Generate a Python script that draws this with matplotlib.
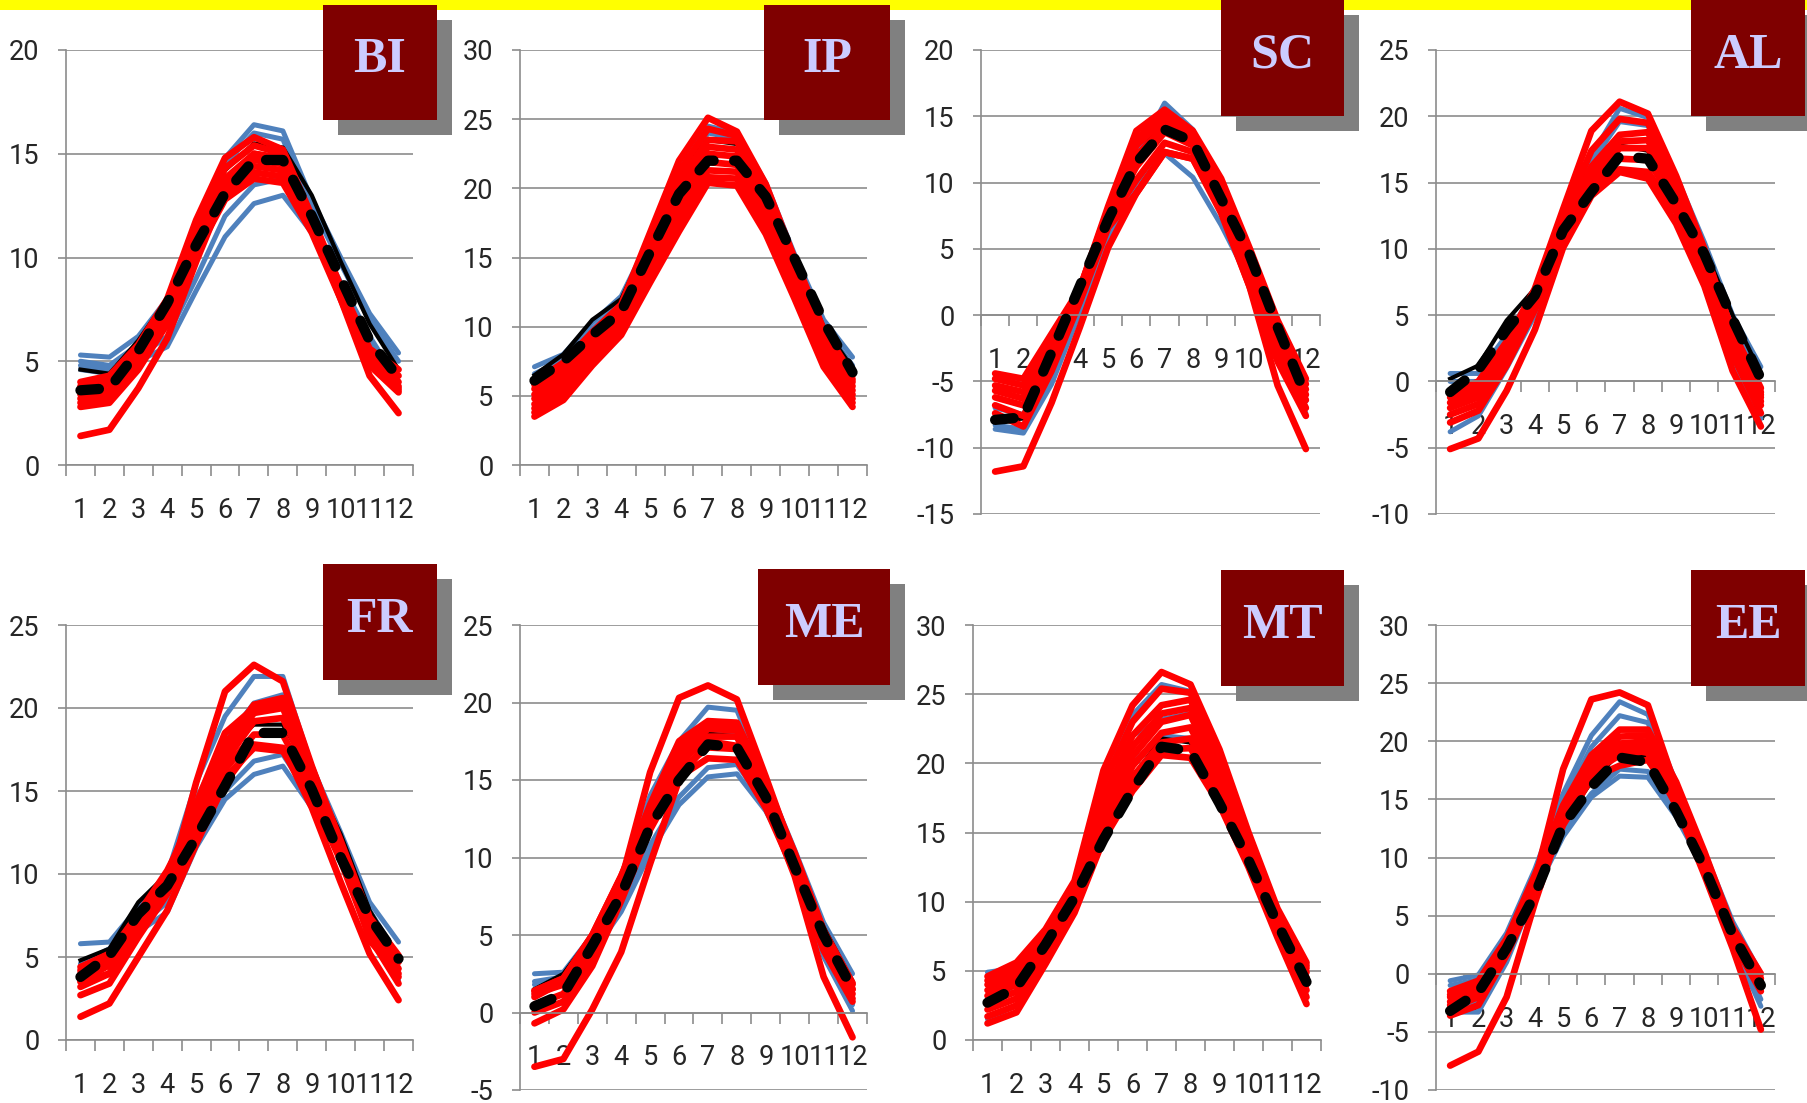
import matplotlib
matplotlib.use('Agg')
import matplotlib.pyplot as plt
from matplotlib import font_manager
from matplotlib.patches import Rectangle
from matplotlib.ticker import FixedLocator, NullFormatter
import numpy as np

# Figure size in pixels (dpi 100)
W, H = 1808, 1103

BLUE = '#4F81BD'
RED = '#FF0000'
GRID = '#8C8C8C'
TEXT = '#262626'
BOX = '#7F0000'
SHADOW = '#808080'
LABEL = '#CCCCFF'

plt.rcParams['axes.unicode_minus'] = False

MONTHS = list(range(1, 13))
MONTH_LABELS = [str(m) for m in MONTHS]

# ---- BI ----
BI_BLUE = [
    [5.3, 5.2, 6.2, 8.0, 11.5, 14.8, 16.4, 16.1, 12.8, 10.0, 7.3, 5.4],
    [5.0, 4.8, 5.8, 7.8, 11.3, 14.5, 16.0, 15.7, 12.5, 9.7, 7.0, 5.0],
    [4.6, 4.4, 5.0, 5.7, 8.4, 11.0, 12.6, 13.0, 11.2, 8.4, 5.8, 3.7],
    [4.8, 4.6, 5.2, 6.2, 9.0, 12.0, 13.5, 13.8, 11.5, 8.8, 6.2, 4.0],
]
BI_BLACK = [4.6, 4.4, 6.0, 8.0, 11.2, 14.2, 15.5, 15.3, 13.0, 9.8, 6.8, 4.6]
BI_RED = [
    [4.0, 4.3, 5.8, 8.0, 11.8, 14.8, 15.8, 15.2, 12.0, 8.6, 5.6, 4.6],
    [3.8, 4.1, 5.6, 7.8, 11.5, 14.3, 15.4, 15.0, 11.9, 8.5, 5.5, 4.3],
    [3.6, 3.9, 5.3, 7.6, 11.2, 13.8, 15.0, 14.7, 11.8, 8.4, 5.3, 4.0],
    [3.4, 3.6, 5.1, 7.4, 11.0, 13.5, 14.7, 14.5, 11.6, 8.3, 5.1, 3.8],
    [3.2, 3.4, 4.9, 7.2, 10.8, 13.2, 14.4, 14.2, 11.5, 8.2, 5.0, 3.7],
    [3.0, 3.2, 4.7, 7.0, 10.5, 13.0, 14.1, 13.9, 11.3, 8.1, 4.9, 3.6],
    [2.8, 3.0, 4.6, 6.8, 10.2, 12.8, 13.8, 13.6, 11.2, 8.0, 4.8, 3.5],
    [1.4, 1.7, 3.7, 6.1, 9.8, 13.2, 15.0, 14.8, 11.6, 8.0, 4.3, 2.5],
]
BI_MEAN = [3.6, 3.7, 5.5, 7.8, 10.6, 13.1, 14.7, 14.7, 12.0, 9.0, 6.0, 4.2]

# ---- IP ----
IP_BLUE = [
    [7.1, 8.0, 10.3, 12.2, 16.4, 21.9, 24.5, 24.0, 20.4, 15.2, 10.5, 7.8],
    [6.6, 7.6, 9.8, 11.8, 16.0, 21.0, 24.0, 23.6, 19.8, 14.8, 10.0, 7.2],
]
IP_BLACK = [6.5, 8.0, 10.5, 12.0, 16.5, 21.0, 23.5, 23.2, 19.8, 14.8, 10.0, 7.0]
IP_RED = [
    [6.0, 7.4, 9.6, 11.6, 16.8, 22.0, 25.1, 24.1, 20.3, 14.9, 9.8, 6.5],
    [5.8, 7.1, 9.3, 11.3, 16.3, 21.2, 24.3, 23.8, 20.0, 14.6, 9.5, 6.2],
    [5.5, 6.8, 9.0, 11.0, 15.8, 20.5, 23.5, 23.4, 19.6, 14.3, 9.2, 6.0],
    [5.1, 6.4, 8.6, 10.7, 15.3, 19.8, 23.0, 22.8, 19.1, 13.9, 8.8, 5.7],
    [4.8, 6.0, 8.3, 10.4, 14.8, 19.2, 22.5, 22.3, 18.6, 13.5, 8.5, 5.4],
    [4.4, 5.6, 8.0, 10.2, 14.4, 18.6, 21.9, 21.7, 18.1, 13.1, 8.1, 5.1],
    [4.1, 5.3, 7.8, 10.0, 14.0, 18.0, 21.3, 21.2, 17.6, 12.8, 7.8, 4.8],
    [3.8, 5.0, 7.5, 9.7, 13.6, 17.4, 20.8, 20.7, 17.1, 12.4, 7.4, 4.5],
    [3.5, 4.7, 7.2, 9.4, 13.2, 16.9, 20.4, 20.2, 16.7, 12.0, 7.1, 4.2],
]
IP_MEAN = [6.1, 7.5, 9.4, 11.1, 15.4, 19.6, 22.0, 22.0, 19.4, 14.9, 10.4, 6.7]

# ---- SC ----
SC_BLUE = [
    [-8.3, -8.6, -4.8, 0.8, 6.8, 12.0, 16.0, 14.0, 9.0, 4.0, -2.0, -7.4],
    [-8.6, -8.9, -5.2, 0.2, 5.8, 10.0, 12.2, 10.4, 6.8, 2.6, -2.8, -7.0],
    [-7.0, -7.5, -3.5, 1.5, 7.5, 12.5, 15.2, 13.5, 9.0, 4.2, -1.5, -6.5],
]
SC_BLACK = [-8.0, -7.8, -3.0, 2.0, 7.0, 12.0, 14.6, 13.5, 9.0, 4.8, -0.8, -6.3]
SC_RED = [
    [-4.4, -4.8, -1.4, 2.0, 8.2, 13.9, 15.5, 13.9, 10.3, 5.1, -0.4, -4.8],
    [-4.8, -5.3, -1.8, 2.0, 8.0, 13.3, 15.1, 13.6, 10.0, 4.8, -0.8, -5.2],
    [-5.3, -5.8, -2.2, 2.0, 7.8, 12.8, 14.8, 13.4, 9.6, 4.4, -1.2, -5.6],
    [-5.7, -6.3, -2.6, 1.8, 7.5, 12.0, 14.3, 13.1, 9.2, 3.9, -1.7, -6.0],
    [-6.2, -6.8, -3.0, 1.6, 7.3, 11.2, 13.8, 12.8, 8.9, 3.4, -2.2, -6.4],
    [-6.8, -7.6, -3.6, 1.3, 7.0, 10.2, 13.0, 12.3, 8.4, 2.8, -2.8, -7.0],
    [-7.4, -8.4, -4.2, 1.0, 6.6, 9.2, 12.3, 11.8, 7.9, 2.2, -3.5, -7.6],
    [-11.8, -11.4, -6.6, -0.9, 5.1, 9.2, 12.3, 11.8, 7.7, 2.2, -5.3, -10.1],
]
SC_MEAN = [-7.9, -7.7, -2.8, 2.2, 7.2, 11.5, 14.0, 13.1, 8.8, 4.6, -0.9, -6.1]

# ---- AL ----
AL_BLUE = [
    [0.6, 0.6, 3.5, 6.8, 12.5, 17.0, 20.6, 19.9, 15.5, 10.5, 5.0, 1.1],
    [0.0, 0.0, 3.0, 6.5, 12.0, 16.5, 19.6, 19.3, 15.0, 10.0, 4.5, 0.5],
    [-3.8, -2.6, 1.0, 5.0, 11.0, 15.0, 16.0, 15.6, 12.0, 7.8, 1.5, -2.8],
]
AL_BLACK = [0.2, 1.2, 4.6, 7.0, 11.8, 15.5, 17.8, 17.4, 14.0, 10.0, 5.0, 0.6]
AL_RED = [
    [-1.0, 0.0, 3.0, 7.0, 13.0, 18.9, 21.1, 20.2, 15.5, 10.0, 3.5, -1.5],
    [-0.8, -0.2, 2.8, 6.8, 12.4, 17.4, 19.8, 19.5, 15.0, 9.8, 3.7, -1.0],
    [-1.2, -0.5, 2.5, 6.5, 11.8, 16.2, 18.6, 18.8, 14.6, 9.6, 3.8, -0.5],
    [-1.6, -0.8, 2.2, 6.2, 11.5, 15.7, 18.1, 18.2, 14.3, 9.3, 3.4, -0.8],
    [-2.0, -1.2, 2.0, 6.0, 11.2, 15.2, 17.6, 17.6, 14.0, 9.0, 3.0, -1.2],
    [-2.5, -1.7, 1.6, 5.7, 10.8, 14.7, 16.8, 16.7, 13.4, 8.6, 2.5, -1.8],
    [-3.1, -2.2, 1.2, 5.4, 10.5, 14.2, 16.0, 15.8, 12.8, 8.2, 2.0, -2.4],
    [-5.1, -4.3, -0.7, 3.9, 10.1, 14.0, 15.8, 15.3, 11.9, 7.2, 0.8, -3.4],
]
AL_MEAN = [-0.8, 0.9, 3.9, 6.5, 11.4, 14.3, 17.0, 16.8, 13.4, 9.6, 4.7, 0.2]

# ---- FR ----
FR_BLUE = [
    [5.8, 5.9, 8.0, 10.0, 15.5, 19.5, 21.9, 21.9, 16.5, 12.5, 8.3, 5.9],
    [4.6, 5.5, 7.5, 9.5, 14.5, 18.0, 20.3, 20.8, 16.0, 12.0, 7.8, 5.0],
    [4.5, 5.0, 6.5, 7.7, 11.6, 14.5, 16.0, 16.5, 14.0, 11.0, 7.0, 3.6],
    [4.0, 4.8, 6.8, 8.3, 12.0, 15.0, 16.8, 17.2, 14.5, 11.3, 7.2, 3.8],
]
FR_BLACK = [4.8, 5.5, 8.3, 10.0, 14.0, 17.5, 19.0, 19.0, 16.0, 12.4, 7.8, 4.9]
FR_RED = [
    [3.5, 4.0, 6.5, 9.0, 15.5, 21.0, 22.6, 21.6, 16.5, 11.8, 6.0, 4.0],
    [4.4, 5.2, 7.6, 10.2, 13.6, 17.8, 20.2, 20.6, 16.4, 12.0, 7.4, 5.1],
    [4.2, 5.0, 7.4, 10.0, 14.2, 18.5, 20.0, 20.3, 16.2, 11.8, 7.2, 4.8],
    [4.0, 4.8, 7.3, 9.9, 13.3, 17.3, 19.7, 20.0, 16.0, 11.7, 7.1, 4.7],
    [3.6, 4.5, 7.0, 9.6, 13.0, 16.8, 19.2, 19.4, 15.6, 11.4, 6.8, 4.3],
    [3.2, 4.0, 6.6, 9.2, 12.6, 16.3, 18.4, 18.4, 15.1, 11.1, 6.5, 3.8],
    [2.7, 3.4, 6.2, 8.8, 12.3, 15.8, 17.6, 17.4, 14.6, 10.8, 6.2, 3.4],
    [1.4, 2.2, 5.0, 7.8, 11.8, 15.5, 17.8, 17.6, 14.0, 9.5, 5.2, 2.4],
]
FR_MEAN = [3.8, 5.1, 7.6, 9.3, 12.2, 15.3, 18.5, 18.5, 15.1, 11.0, 7.4, 4.9]

# ---- ME ----
ME_BLUE = [
    [2.5, 2.6, 5.0, 8.5, 14.0, 17.5, 19.7, 19.5, 15.0, 10.5, 5.8, 2.5],
    [2.0, 2.3, 4.6, 8.0, 13.0, 16.5, 18.2, 18.0, 14.4, 10.0, 5.5, 2.0],
    [1.8, 2.0, 3.8, 6.5, 10.3, 13.4, 15.2, 15.4, 13.0, 9.5, 3.6, 0.1],
    [1.5, 1.8, 3.5, 6.8, 10.8, 13.9, 15.8, 16.0, 13.4, 9.0, 3.8, 0.5],
]
ME_BLACK = [1.5, 2.5, 5.0, 8.5, 12.5, 16.0, 18.0, 17.8, 14.0, 9.8, 5.5, 2.0]
ME_RED = [
    [1.0, 2.0, 4.5, 8.5, 15.5, 20.3, 21.1, 20.2, 15.2, 10.0, 4.5, 1.5],
    [1.4, 2.2, 5.0, 8.8, 13.4, 17.5, 18.8, 18.7, 14.8, 10.3, 5.3, 1.9],
    [1.4, 2.2, 5.0, 8.8, 13.0, 17.0, 18.7, 18.5, 14.6, 10.2, 5.2, 1.8],
    [1.2, 1.8, 4.6, 8.5, 12.8, 16.5, 18.3, 18.2, 14.3, 9.9, 4.9, 1.5],
    [0.5, 1.2, 4.0, 8.0, 12.5, 16.0, 17.8, 17.8, 14.0, 9.6, 4.6, 1.2],
    [0.0, 0.7, 3.5, 7.6, 12.1, 15.6, 17.1, 17.0, 13.6, 9.3, 4.3, 0.9],
    [-0.7, 0.2, 3.0, 7.2, 11.8, 15.2, 16.4, 16.3, 13.2, 9.0, 4.0, 0.7],
    [-3.5, -3.0, 0.2, 3.9, 9.6, 15.0, 17.5, 17.2, 13.6, 8.8, 2.3, -1.6],
]
ME_MEAN = [0.4, 1.2, 4.3, 7.6, 12.0, 15.0, 17.3, 17.1, 13.9, 9.4, 5.0, 1.5]

# ---- MT ----
MT_BLUE = [
    [4.9, 5.2, 8.0, 11.5, 18.5, 23.5, 25.7, 25.2, 20.5, 14.5, 9.0, 5.0],
    [4.2, 4.8, 7.5, 11.0, 17.0, 22.0, 23.2, 23.6, 19.5, 14.0, 8.8, 4.8],
    [1.5, 2.5, 6.0, 9.8, 15.5, 20.0, 22.0, 21.8, 18.0, 13.5, 8.0, 3.2],
]
MT_BLACK = [2.8, 4.0, 7.5, 10.8, 15.0, 19.0, 21.8, 21.5, 17.8, 13.5, 8.8, 4.6]
MT_RED = [
    [4.6, 5.6, 8.0, 11.5, 19.5, 24.2, 26.6, 25.7, 21.0, 15.0, 9.5, 5.6],
    [4.3, 5.2, 7.8, 11.2, 18.5, 23.0, 25.4, 25.1, 20.5, 14.8, 9.3, 5.4],
    [4.0, 4.8, 7.6, 11.0, 17.5, 22.0, 24.2, 24.6, 20.0, 14.6, 9.2, 5.2],
    [3.6, 4.4, 7.3, 10.8, 16.8, 21.2, 23.6, 24.0, 19.5, 14.3, 9.0, 4.9],
    [3.2, 4.0, 7.0, 10.5, 16.0, 20.5, 23.0, 23.5, 19.0, 14.0, 8.8, 4.5],
    [2.7, 3.5, 6.6, 10.1, 15.5, 19.8, 22.2, 22.6, 18.5, 13.7, 8.5, 4.0],
    [2.2, 3.0, 6.2, 9.8, 15.0, 19.0, 21.5, 21.8, 18.0, 13.4, 8.2, 3.6],
    [1.7, 2.5, 5.8, 9.5, 14.7, 18.5, 21.0, 21.1, 17.5, 13.0, 7.8, 3.1],
    [1.2, 2.0, 5.5, 9.2, 14.5, 18.0, 20.6, 20.4, 17.0, 12.5, 7.4, 2.6],
]
MT_MEAN = [2.7, 3.8, 6.9, 10.3, 14.5, 18.1, 21.2, 20.9, 17.1, 13.0, 8.4, 4.2]

# ---- EE ----
EE_BLUE = [
    [-0.6, -0.1, 3.5, 9.0, 15.5, 20.5, 23.4, 22.3, 16.5, 10.5, 4.5, 0.0],
    [-1.0, -0.5, 3.0, 8.5, 14.8, 19.5, 22.2, 21.6, 16.0, 10.2, 4.0, -0.5],
    [-3.3, -3.3, 1.0, 7.0, 11.8, 15.2, 17.0, 16.9, 13.5, 9.0, 2.5, -2.8],
    [-3.0, -2.5, 1.5, 7.5, 12.2, 15.5, 17.6, 17.4, 14.0, 9.2, 3.0, -2.2],
]
EE_BLACK = [-3.0, -1.8, 2.6, 7.2, 13.0, 16.5, 19.0, 18.7, 14.5, 9.5, 3.8, -1.0]
EE_RED = [
    [-2.0, -0.8, 2.5, 8.0, 17.6, 23.6, 24.2, 23.1, 16.0, 10.0, 3.0, -1.0],
    [-1.5, -0.6, 3.0, 8.5, 14.5, 18.8, 21.0, 21.0, 16.5, 10.5, 4.0, 0.0],
    [-1.8, -0.7, 2.8, 8.2, 14.1, 18.3, 20.4, 20.5, 16.0, 10.2, 3.8, -0.4],
    [-2.4, -1.4, 2.4, 7.8, 13.6, 17.8, 19.8, 20.0, 15.6, 9.8, 3.5, -0.7],
    [-2.7, -1.7, 2.2, 7.6, 13.4, 17.5, 19.3, 19.6, 15.4, 9.7, 3.3, -0.9],
    [-3.0, -2.0, 2.0, 7.4, 13.2, 17.3, 18.8, 19.2, 15.2, 9.5, 3.1, -1.1],
    [-3.6, -2.7, 1.6, 7.0, 12.8, 16.8, 17.9, 18.4, 14.8, 9.2, 2.8, -1.5],
    [-7.9, -6.7, -2.0, 6.1, 13.4, 17.5, 19.5, 19.0, 14.5, 8.5, 2.2, -4.8],
]
EE_MEAN = [-3.2, -1.6, 2.2, 6.8, 12.8, 16.1, 18.6, 18.2, 14.0, 9.1, 3.4, -1.0]

# name, series, y-range, plot area (px: left, top, right, bottom), label box (px)
PANELS = [
    ('BI', BI_BLUE, BI_BLACK, BI_RED, BI_MEAN, (0, 20), (66, 50, 413, 465), (323, 5, 437, 120)),
    ('IP', IP_BLUE, IP_BLACK, IP_RED, IP_MEAN, (0, 30), (520, 50, 867, 465), (764, 5, 890, 120)),
    ('SC', SC_BLUE, SC_BLACK, SC_RED, SC_MEAN, (-15, 20), (981, 50, 1320, 514), (1221, 0, 1344, 116)),
    ('AL', AL_BLUE, AL_BLACK, AL_RED, AL_MEAN, (-10, 25), (1436, 50, 1775, 514), (1691, 0, 1805, 116)),
    ('FR', FR_BLUE, FR_BLACK, FR_RED, FR_MEAN, (0, 25), (66, 625, 413, 1040), (323, 564, 437, 680)),
    ('ME', ME_BLUE, ME_BLACK, ME_RED, ME_MEAN, (-5, 25), (520, 625, 867, 1090), (758, 569, 890, 685)),
    ('MT', MT_BLUE, MT_BLACK, MT_RED, MT_MEAN, (0, 30), (973, 625, 1321, 1040), (1221, 570, 1344, 686)),
    ('EE', EE_BLUE, EE_BLACK, EE_RED, EE_MEAN, (-10, 30), (1436, 625, 1775, 1090), (1691, 570, 1805, 686)),
]


def pick_tick_font():
    """Prefer a narrow sans (like Calibri in the original), else Roboto."""
    for f in font_manager.fontManager.ttflist:
        if f.name == 'Liberation Sans Narrow' and f.style == 'normal' and f.weight in (400, 'normal', 'regular'):
            return font_manager.FontProperties(fname=f.fname, size=20)
    return font_manager.FontProperties(family=['Roboto', 'DejaVu Sans'], size=19.5)


TICK_FP = pick_tick_font()


def draw_panel(fig, blue, black, red, mean, yrange, area):
    """Draws one Excel-style monthly line chart into the given pixel area."""
    x0, y0, x1, y1 = area
    ax = fig.add_axes([x0 / W, 1 - y1 / H, (x1 - x0) / W, (y1 - y0) / H])
    ymin, ymax = yrange
    ax.set_xlim(0.5, 12.5)
    ax.set_ylim(ymin, ymax)
    ax.set_axisbelow(True)
    ax.patch.set_alpha(0)

    for s in blue:
        ax.plot(MONTHS, s, color=BLUE, lw=3.6, solid_joinstyle='round', solid_capstyle='round', zorder=2)
    ax.plot(MONTHS, black, color='black', lw=3.0, solid_joinstyle='round', zorder=2.1)
    for s in red:
        ax.plot(MONTHS, s, color=RED, lw=4.8, solid_joinstyle='round', solid_capstyle='round', zorder=2.2)
    # thick dashed mean line
    ax.plot(MONTHS, mean, color='black', lw=7.4, dashes=(1.8, 2.0), dash_capstyle='round',
            solid_joinstyle='round', zorder=3)

    # y axis: gridlines every 5
    ax.set_yticks(np.arange(ymin, ymax + 1, 5))
    ax.yaxis.grid(True, color=GRID, lw=1.2)
    ax.tick_params(axis='y', length=6, width=1.2, color=GRID, pad=13, labelcolor=TEXT)

    # x axis crosses at 0, ticks between the categories
    for side in ['top', 'right']:
        ax.spines[side].set_visible(False)
    ax.spines['bottom'].set_position(('data', 0))
    for side in ['bottom', 'left']:
        ax.spines[side].set_color(GRID)
        ax.spines[side].set_linewidth(1.2)
    ax.xaxis.set_major_locator(FixedLocator(np.arange(0.5, 13, 1)))
    ax.xaxis.set_major_formatter(NullFormatter())
    ax.xaxis.set_minor_locator(FixedLocator(MONTHS))
    ax.set_xticklabels(MONTH_LABELS, minor=True)
    ax.tick_params(axis='x', which='major', length=8, width=1.2, color=GRID, direction='out')
    ax.tick_params(axis='x', which='minor', length=0, pad=23, labelcolor=TEXT)

    for lab in ax.get_xticklabels(minor=True) + ax.get_yticklabels():
        lab.set_fontproperties(TICK_FP)
    return ax


def main():
    fig = plt.figure(figsize=(W / 100, H / 100), dpi=100)

    for name, blue, black, red, mean, yrange, area, box in PANELS:
        draw_panel(fig, blue, black, red, mean, yrange, area)

    # Overlay in pixel coordinates for the banner and the label boxes
    over = fig.add_axes([0, 0, 1, 1], zorder=10)
    over.set_xlim(0, W)
    over.set_ylim(H, 0)
    over.axis('off')
    over.patch.set_alpha(0)

    over.add_patch(Rectangle((0, 0), W, 10, color='#FFFF00', lw=0))
    for name, blue, black, red, mean, yrange, area, box in PANELS:
        bx0, by0, bx1, by1 = box
        over.add_patch(Rectangle((bx0 + 15, by0 + 15), bx1 - bx0, by1 - by0, color=SHADOW, lw=0))
        over.add_patch(Rectangle((bx0, by0), bx1 - bx0, by1 - by0, color=BOX, lw=0))
        over.text((bx0 + bx1) / 2, (by0 + by1) / 2 - 2, name, ha='center', va='center',
                  fontsize=36, fontweight='bold', color=LABEL,
                  family=['Liberation Serif', 'DejaVu Serif'])

    fig.savefig('out.png', dpi=100)
    plt.close(fig)


if __name__ == '__main__':
    main()
